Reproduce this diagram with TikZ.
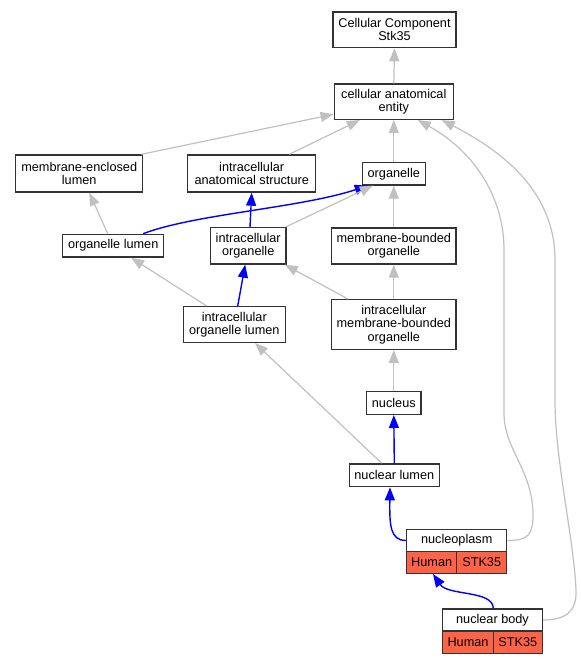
\documentclass[tikz,border=0pt]{standalone}
\usepackage{fontspec}
\setmainfont{Liberation Sans}
\usetikzlibrary{arrows.meta}
\definecolor{tomato}{HTML}{FF6347}
\definecolor{edgegray}{HTML}{C0C0C0}
\begin{document}
\begin{tikzpicture}[x=1pt,y=-1pt,
  box/.style={draw=black!80, line width=1.4pt, fill=white, inner sep=0pt, align=center,
    font=\fontsize{12.7}{13.3}\selectfont},
  cell/.style={box, fill=tomato},
  gedge/.style={draw=edgegray, line width=1.2pt, -{Triangle[length=13pt,width=10pt]}},
  bedge/.style={draw=blue, line width=1.4pt, -{Triangle[length=13pt,width=10pt]}}]
\useasboundingbox (0,0) rectangle (581,664);
% nodes
\node[box, minimum width=123.3pt, minimum height=35.7pt] (cc) at (394.5,29.8) {Cellular Component\\Stk35};
\node[box, minimum width=119pt, minimum height=35.3pt] (cae) at (393.8,101.7) {cellular anatomical\\entity};
\node[box, minimum width=127pt, minimum height=37pt] (mel) at (79.2,173.5) {membrane-enclosed\\lumen};
\node[box, minimum width=128pt, minimum height=37pt] (ias) at (251.7,173.5) {intracellular\\anatomical structure};
\node[box, minimum width=63pt, minimum height=22.3pt] (org) at (393.8,173.8) {organelle};
\node[box, minimum width=101pt, minimum height=22.7pt] (olum) at (113.2,245.7) {organelle lumen};
\node[box, minimum width=75.7pt, minimum height=36.3pt] (io) at (248.2,245.8) {intracellular\\organelle};
\node[box, minimum width=124.3pt, minimum height=36pt] (mbo) at (393.8,246) {membrane-bounded\\organelle};
\node[box, minimum width=102pt, minimum height=35.6pt] (iol) at (234.3,324.5) {intracellular\\organelle lumen};
\node[box, minimum width=124.3pt, minimum height=49.6pt] (imbo) at (393.8,324.5) {intracellular\\membrane-bounded\\organelle};
\node[box, minimum width=54.3pt, minimum height=22.6pt] (nuc) at (393.8,403) {nucleus};
\node[box, minimum width=90pt, minimum height=22.7pt] (nlum) at (394.3,475.3) {nuclear lumen};
\node[box, minimum width=100pt, minimum height=22.4pt] (np) at (456.7,540.5) {nucleoplasm};
\node[cell, minimum width=50pt, minimum height=21.6pt] (nph) at (431.7,562.5) {Human};
\node[cell, minimum width=50pt, minimum height=21.6pt] (nps) at (481.7,562.5) {STK35};
\node[box, minimum width=99.6pt, minimum height=22pt] (nb) at (492.5,620) {nuclear body};
\node[cell, minimum width=50.6pt, minimum height=22.3pt] (nbh) at (468,642.2) {Human};
\node[cell, minimum width=49pt, minimum height=22.3pt] (nbs) at (517.8,642.2) {STK35};
% edges
\draw[gedge] (cae.north) -- (cc.south);
\draw[gedge] ([xshift=-2pt]mel.north east) -- ([yshift=-12.6pt]cae.west);
\draw[gedge] ([xshift=37.6pt]ias.north) -- ([xshift=-34pt]cae.south);
\draw[gedge] (org.north) -- (cae.south);
\draw[gedge] ([xshift=-5.5pt]olum.north) -- ([xshift=10.1pt]mel.south);
\draw[bedge] ([xshift=30pt]olum.north) .. controls (195,214) and (300,208) .. ([xshift=-26pt]org.south);
\draw[bedge] ([xshift=1.8pt]io.north) -- (ias.south);
\draw[gedge] ([xshift=-1pt]io.north east) -- ([xshift=-21pt]org.south);
\draw[gedge] (mbo.north) -- (org.south);
\draw[gedge] ([xshift=-27.6pt]iol.north) -- ([xshift=18pt]olum.south);
\draw[bedge] ([xshift=3.4pt]iol.north) -- ([xshift=-3pt]io.south);
\draw[gedge] ([xshift=-45.8pt]imbo.north) -- ([xshift=-2pt]io.south east);
\draw[gedge] (imbo.north) -- (mbo.south);
\draw[gedge] (nuc.north) -- (imbo.south);
\draw[gedge] ([xshift=-12.6pt]nlum.north) -- ([xshift=20.7pt]iol.south);
\draw[bedge] (nlum.north) -- (nuc.south);
\draw[bedge] (np.west) .. controls (390,540.5) and (389.5,525) .. ([xshift=-4.3pt]nlum.south);
\draw[bedge] ([xshift=0.8pt]nb.north) .. controls (493,590) and (448,596) .. ([xshift=1.3pt]nph.south);
\draw[gedge] (np.east) .. controls (528,540.5) and (533,535) .. (533,515)
  .. controls (533,470) and (504,450) .. (504,413) -- (504,250)
  .. controls (504,195) and (472,150) .. ([xshift=24pt]cae.south);
\draw[gedge] (nb.east) .. controls (565,620) and (577,612) .. (576,590)
  .. controls (574,540) and (555,460) .. (555,400) -- (555,260)
  .. controls (555,190) and (500,150) .. ([xshift=48pt]cae.south);
\end{tikzpicture}
\end{document}
